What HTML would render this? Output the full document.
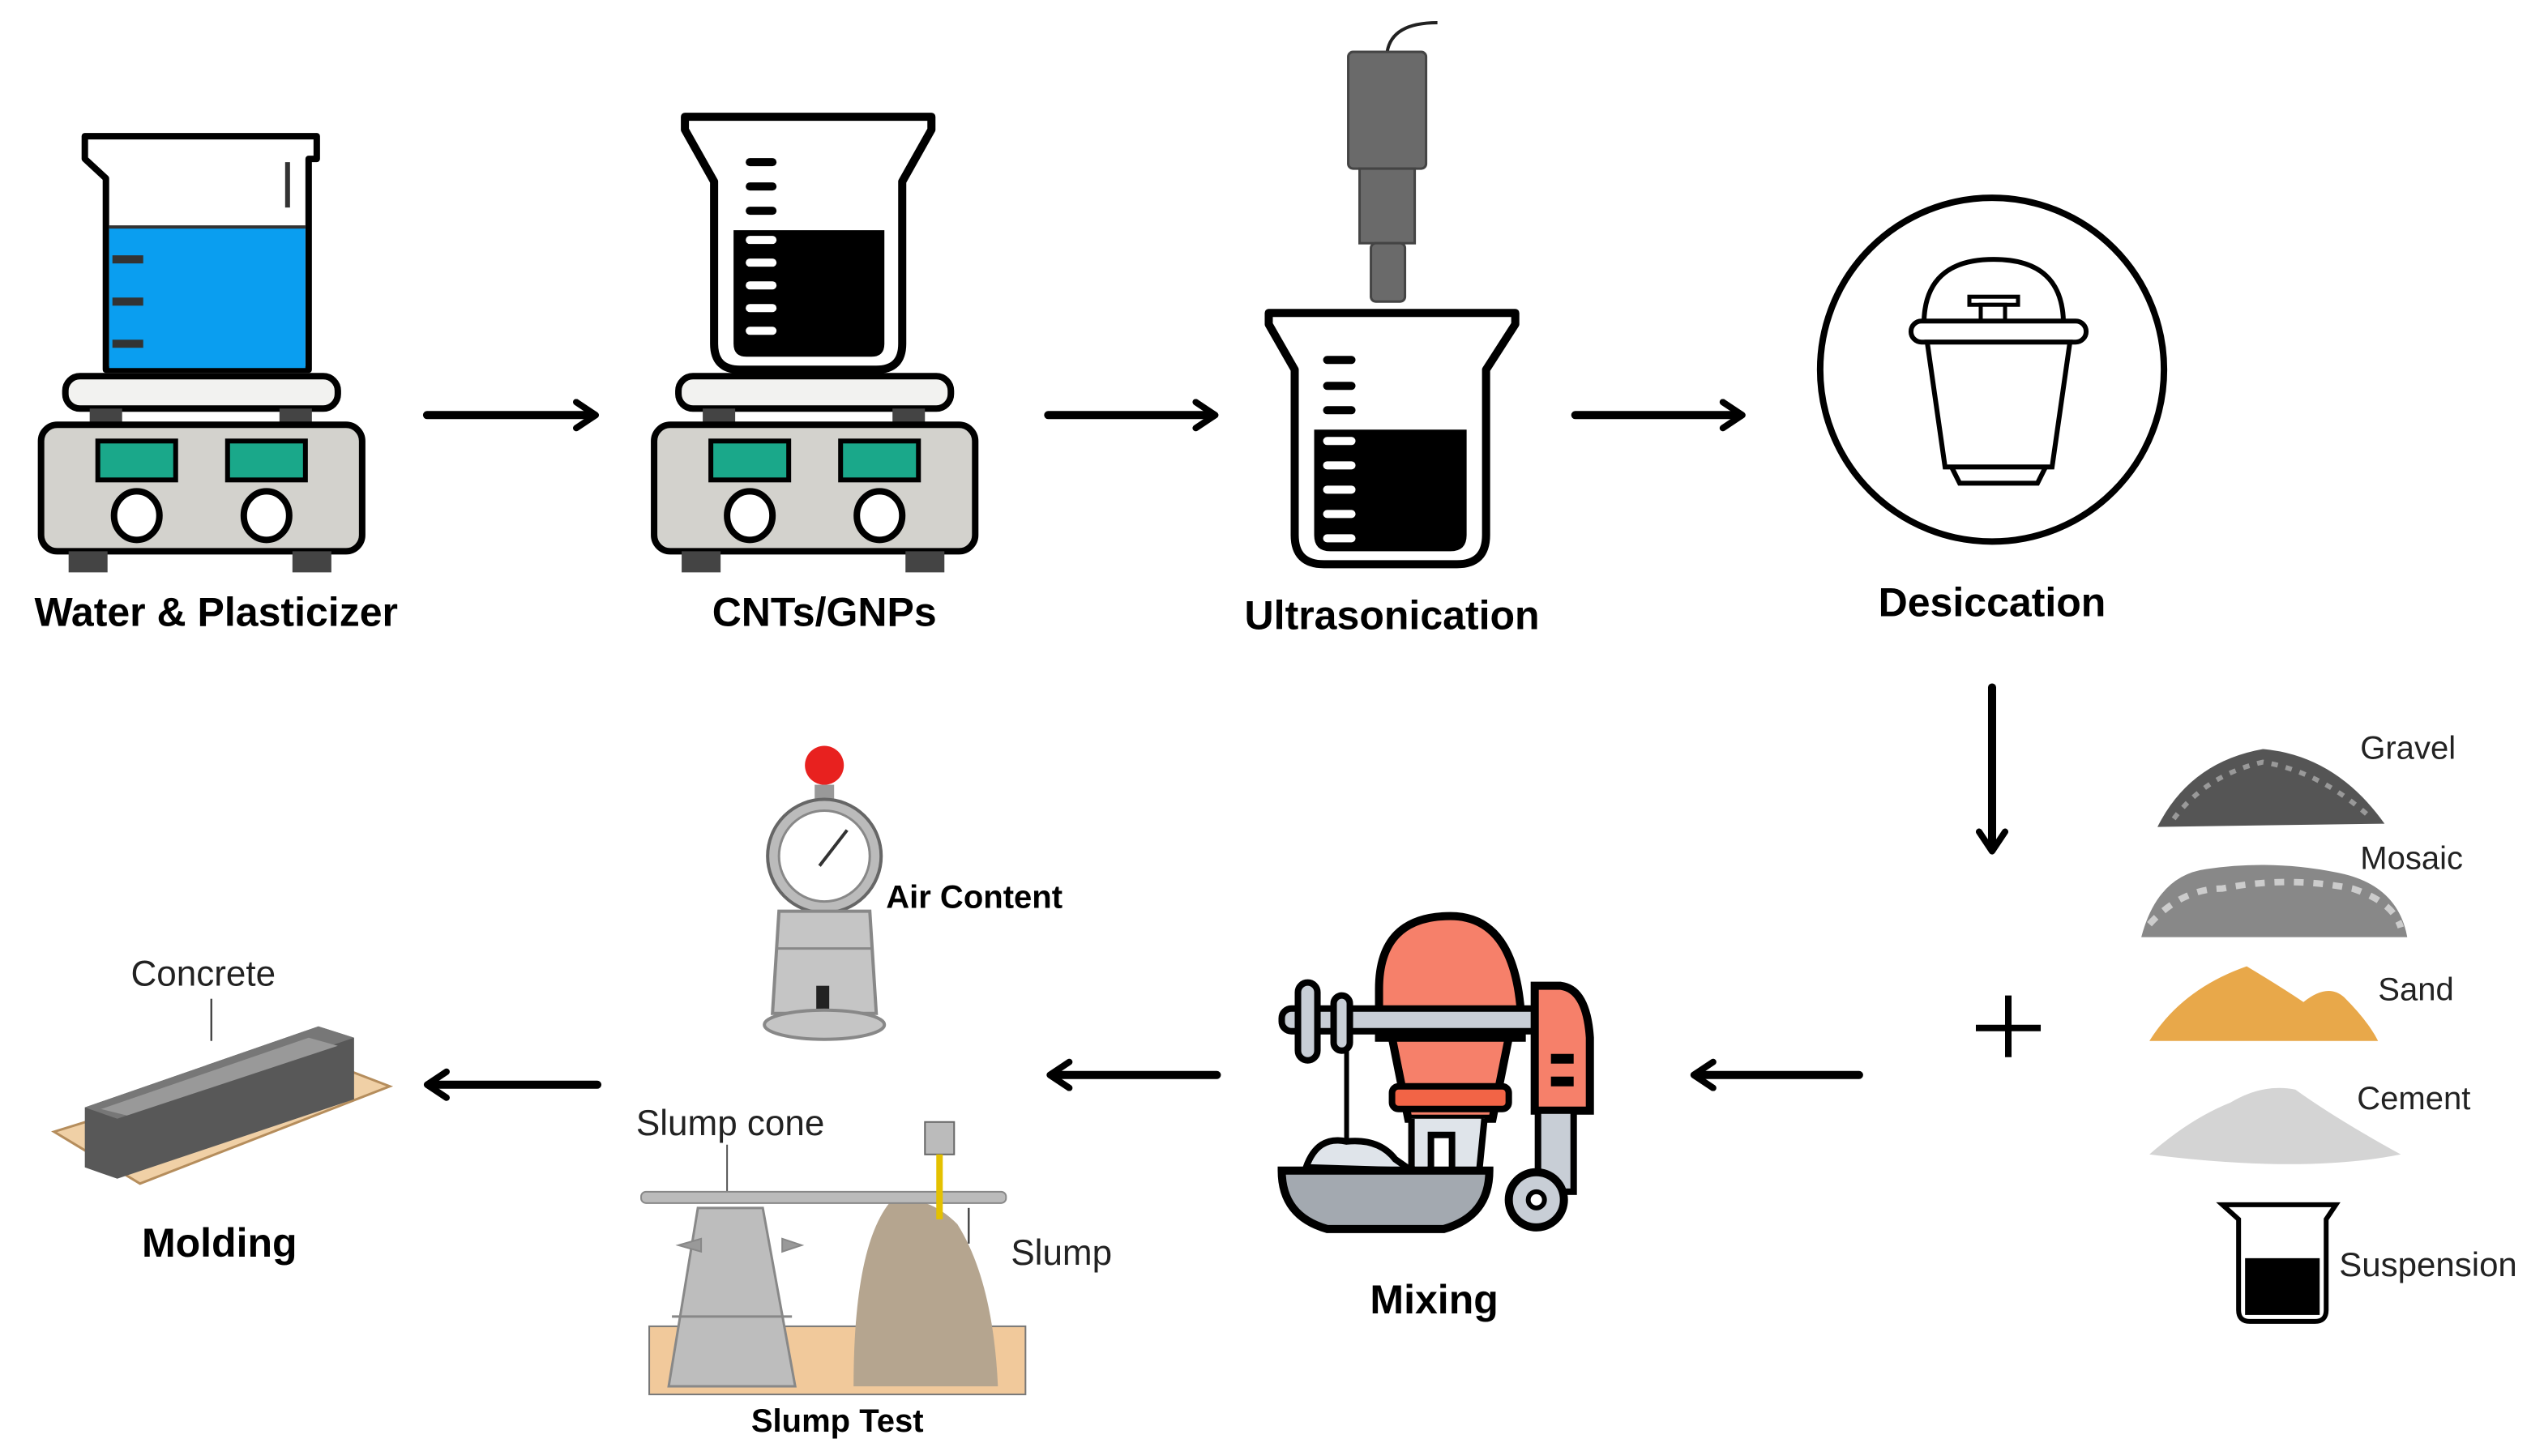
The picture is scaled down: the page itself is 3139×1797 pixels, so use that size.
<!DOCTYPE html>
<html><head><meta charset="utf-8">
<style>
html,body{margin:0;padding:0;background:#fff;}
svg{display:block;}
text{font-family:"Liberation Sans",sans-serif;}
</style></head>
<body>
<svg width="3139" height="1797" viewBox="0 0 1568 898" xmlns="http://www.w3.org/2000/svg">
<defs>
<marker id="ah" viewBox="0 0 20 20" refX="14" refY="10" markerWidth="20" markerHeight="20" markerUnits="userSpaceOnUse" orient="auto">
<path d="M3,2 L15,10 L3,18" fill="none" stroke="#000" stroke-width="4" stroke-linecap="round" stroke-linejoin="round"/>
</marker>
<g id="plate">
<rect x="40" y="232" width="168" height="20" rx="9" fill="#f2f2f0" stroke="#000" stroke-width="4"/>
<rect x="55" y="252" width="20" height="10" fill="#444"/>
<rect x="172" y="252" width="20" height="10" fill="#444"/>
<rect x="25" y="262" width="198" height="78" rx="10" fill="#d3d2cd" stroke="#000" stroke-width="4"/>
<rect x="60" y="272" width="48" height="24" fill="#1aa88a" stroke="#000" stroke-width="3"/>
<rect x="140" y="272" width="48" height="24" fill="#1aa88a" stroke="#000" stroke-width="3"/>
<ellipse cx="84" cy="318" rx="14" ry="15" fill="#fff" stroke="#000" stroke-width="4"/>
<ellipse cx="164" cy="318" rx="14" ry="15" fill="#fff" stroke="#000" stroke-width="4"/>
<rect x="42" y="340" width="24" height="13" fill="#444"/>
<rect x="180" y="340" width="24" height="13" fill="#444"/>
</g>
</defs>

<!-- Hotplate 1 -->
<path d="M52,84 L195,84 L195,98 L190,98 L190,228 L65,228 L65,110 L52,98 Z" fill="#fff" stroke="#000" stroke-width="4" stroke-linejoin="round"/>
<rect x="67" y="140" width="121" height="87" fill="#0a9ef0"/>
<line x1="67" y1="140" x2="188" y2="140" stroke="#333" stroke-width="2"/>
<line x1="69" y1="160" x2="88" y2="160" stroke="#333" stroke-width="5"/>
<line x1="69" y1="186" x2="88" y2="186" stroke="#333" stroke-width="5"/>
<line x1="69" y1="212" x2="88" y2="212" stroke="#333" stroke-width="5"/>
<line x1="177" y1="100" x2="177" y2="128" stroke="#333" stroke-width="3"/>
<use href="#plate"/>
<text x="133" y="386" font-size="25" font-weight="bold" text-anchor="middle">Water &amp; Plasticizer</text>

<!-- Hotplate 2 -->
<path d="M422,72 L574,72 L574,80 L556,112 L556,212 Q556,228 540,228 L456,228 Q440,228 440,212 L440,112 L422,80 Z" fill="#fff" stroke="#000" stroke-width="5" stroke-linejoin="round"/>
<path d="M452,142 L545,142 L545,212 Q545,220 537,220 L460,220 Q452,220 452,212 Z" fill="#000"/>
<g stroke="#000" stroke-width="5" stroke-linecap="round"><line x1="462" y1="100" x2="476" y2="100"/><line x1="462" y1="115" x2="476" y2="115"/><line x1="462" y1="130" x2="476" y2="130"/></g>
<g stroke="#fff" stroke-width="5" stroke-linecap="round"><line x1="462" y1="148" x2="476" y2="148"/><line x1="462" y1="162" x2="476" y2="162"/><line x1="462" y1="176" x2="476" y2="176"/><line x1="462" y1="190" x2="476" y2="190"/><line x1="462" y1="204" x2="476" y2="204"/></g>
<use href="#plate" transform="translate(378,0)"/>
<text x="508" y="386" font-size="25" font-weight="bold" text-anchor="middle">CNTs/GNPs</text>

<!-- arrows -->
<g stroke="#000" stroke-width="5" stroke-linecap="round" marker-end="url(#ah)">
<line x1="263" y1="256" x2="366" y2="256"/>
<line x1="646" y1="256" x2="748" y2="256"/>
<line x1="971" y1="256" x2="1073" y2="256"/>
<line x1="1228" y1="424" x2="1228" y2="524"/>
<line x1="1146" y1="663" x2="1045" y2="663"/>
<line x1="750" y1="663" x2="648" y2="663"/>
<line x1="368" y1="669" x2="264" y2="669"/>
</g>

<!-- Ultrasonication -->
<path d="M855,32 Q858,14 886,14" fill="none" stroke="#222" stroke-width="2"/>
<rect x="831" y="32" width="48" height="72" rx="3" fill="#6a6a6a" stroke="#444" stroke-width="1.5"/>
<rect x="838" y="104" width="34" height="46" fill="#6a6a6a" stroke="#444" stroke-width="1.5"/>
<rect x="845" y="150" width="21" height="36" rx="3" fill="#6a6a6a" stroke="#444" stroke-width="1.5"/>
<path d="M782,193 L934,193 L934,200 L916,228 L916,330 Q916,348 898,348 L816,348 Q798,348 798,330 L798,228 L782,200 Z" fill="#fff" stroke="#000" stroke-width="5" stroke-linejoin="round"/>
<path d="M810,265 L904,265 L904,330 Q904,340 894,340 L820,340 Q810,340 810,330 Z" fill="#000"/>
<g stroke="#000" stroke-width="5" stroke-linecap="round"><line x1="818" y1="222" x2="833" y2="222"/><line x1="818" y1="238" x2="833" y2="238"/><line x1="818" y1="253" x2="833" y2="253"/></g>
<g stroke="#fff" stroke-width="5" stroke-linecap="round"><line x1="818" y1="272" x2="833" y2="272"/><line x1="818" y1="287" x2="833" y2="287"/><line x1="818" y1="302" x2="833" y2="302"/><line x1="818" y1="317" x2="833" y2="317"/><line x1="818" y1="332" x2="833" y2="332"/></g>
<text x="858" y="388" font-size="25" font-weight="bold" text-anchor="middle">Ultrasonication</text>

<!-- Desiccation -->
<circle cx="1228" cy="228" r="106" fill="#fff" stroke="#000" stroke-width="4"/>
<path d="M1186,200 Q1186,160 1229,160 Q1272,160 1272,200" fill="#fff" stroke="#000" stroke-width="3"/>
<rect x="1214" y="183" width="30" height="5" fill="#fff" stroke="#000" stroke-width="2.5"/>
<rect x="1221" y="188" width="15" height="12" fill="#fff" stroke="#000" stroke-width="2.5"/>
<rect x="1178" y="198" width="108" height="13" rx="6.5" fill="#fff" stroke="#000" stroke-width="3"/>
<path d="M1188,211 L1276,211 L1265,288 L1199,288 Z" fill="#fff" stroke="#000" stroke-width="3"/>
<path d="M1203,288 L1261,288 L1256,298 L1208,298 Z" fill="#fff" stroke="#000" stroke-width="3"/>
<text x="1228" y="380" font-size="25" font-weight="bold" text-anchor="middle">Desiccation</text>

<!-- plus -->
<line x1="1218" y1="634" x2="1258" y2="634" stroke="#000" stroke-width="4"/>
<line x1="1238" y1="614" x2="1238" y2="652" stroke="#000" stroke-width="4"/>

<!-- materials -->
<path d="M1330,510 Q1350,470 1395,462 Q1440,466 1470,508 Z" fill="#555"/>
<path d="M1340,505 Q1360,478 1395,470 Q1430,476 1460,503" fill="none" stroke="#999" stroke-width="3" stroke-dasharray="4 5"/>
<text x="1455" y="468" font-size="20" fill="#222">Gravel</text>
<path d="M1320,578 Q1330,540 1360,536 Q1400,530 1440,538 Q1478,545 1484,578 Z" fill="#888"/>
<path d="M1325,570 Q1345,548 1370,548 Q1410,540 1450,548 Q1475,556 1480,572" fill="none" stroke="#ccc" stroke-width="4" stroke-dasharray="6 6"/>
<text x="1455" y="536" font-size="20" fill="#222">Mosaic</text>
<path d="M1325,642 Q1345,610 1385,596 Q1405,608 1420,618 Q1435,606 1445,615 Q1460,630 1466,642 Z" fill="#e8a84a"/>
<text x="1466" y="617" font-size="20" fill="#222">Sand</text>
<path d="M1325,712 Q1350,690 1375,680 Q1395,668 1415,672 Q1440,690 1480,712 Q1420,724 1325,712 Z" fill="#d4d4d4"/>
<text x="1453" y="684" font-size="20" fill="#222">Cement</text>
<path d="M1370,743 L1440,743 L1434,752 L1434,808 Q1434,815 1427,815 L1387,815 Q1380,815 1380,808 L1380,752 Z" fill="#fff" stroke="#000" stroke-width="3"/>
<rect x="1384" y="776" width="46" height="35" fill="#000"/>
<text x="1442" y="787" font-size="21" fill="#222">Suspension</text>

<!-- Mixer -->
<path d="M850,640 L850,610 Q850,565 894,565 Q938,565 938,640 Z" fill="#f6806a" stroke="#000" stroke-width="5"/>
<path d="M858,640 L930,640 L920,690 L868,690 Z" fill="#f6806a" stroke="#000" stroke-width="5"/>
<rect x="858" y="670" width="72" height="14" rx="4" fill="#f26446" stroke="#000" stroke-width="4"/>
<path d="M870,690 L870,720 Q876,728 882,720 L882,700 L895,700 L895,730 Q905,735 912,720 L915,690" fill="#dfe4ea" stroke="#000" stroke-width="4"/>
<rect x="790" y="622" width="160" height="14" rx="6" fill="#c8ced6" stroke="#000" stroke-width="4"/>
<rect x="800" y="606" width="12" height="48" rx="6" fill="#c8ced6" stroke="#000" stroke-width="4"/>
<rect x="822" y="614" width="10" height="34" rx="5" fill="#c8ced6" stroke="#000" stroke-width="4"/>
<path d="M946,608 L962,608 Q978,610 980,640 L980,685 L946,685 Z" fill="#f6806a" stroke="#000" stroke-width="5"/>
<rect x="956" y="650" width="14" height="6" fill="#000"/><rect x="956" y="664" width="14" height="6" fill="#000"/>
<rect x="948" y="685" width="22" height="50" fill="#c8ced6" stroke="#000" stroke-width="4"/>
<circle cx="947" cy="740" r="17" fill="#c8ced6" stroke="#000" stroke-width="5"/>
<circle cx="947" cy="740" r="5" fill="#fff" stroke="#000" stroke-width="3"/>
<line x1="830" y1="648" x2="830" y2="705" stroke="#000" stroke-width="3"/>
<path d="M805,720 Q812,700 830,704 Q850,702 860,715 L870,722 Z" fill="#dfe4ea" stroke="#000" stroke-width="4"/>
<path d="M790,722 L918,722 Q918,750 890,758 L818,758 Q790,750 790,722 Z" fill="#a3a9b0" stroke="#000" stroke-width="5"/>
<text x="884" y="810" font-size="25" font-weight="bold" text-anchor="middle">Mixing</text>

<!-- Air content -->
<circle cx="508" cy="472" r="12" fill="#e8211f"/>
<rect x="502" y="484" width="12" height="10" fill="#999"/>
<circle cx="508" cy="528" r="35" fill="#bbb" stroke="#666" stroke-width="2"/>
<circle cx="508" cy="528" r="28" fill="#fff" stroke="#888" stroke-width="1.5"/>
<line x1="505" y1="534" x2="522" y2="512" stroke="#333" stroke-width="2"/>
<path d="M480,562 L536,562 L540,625 L476,625 Z" fill="#c5c5c5" stroke="#888" stroke-width="2"/>
<line x1="478" y1="585" x2="538" y2="585" stroke="#888" stroke-width="1.5"/>
<rect x="503" y="608" width="8" height="20" fill="#222"/>
<ellipse cx="508" cy="632" rx="37" ry="9" fill="#c5c5c5" stroke="#888" stroke-width="2"/>
<text x="546" y="560" font-size="20" font-weight="bold">Air Content</text>

<!-- Slump test -->
<text x="450" y="700" font-size="22" fill="#222" text-anchor="middle">Slump cone</text>
<line x1="448" y1="706" x2="448" y2="740" stroke="#555" stroke-width="1"/>
<rect x="400" y="818" width="232" height="42" fill="#f1c99b" stroke="#777" stroke-width="1"/>
<path d="M526,855 Q526,770 548,742 Q570,735 590,755 Q612,790 615,855 Z" fill="#b5a58f"/>
<path d="M430,745 L470,745 L490,855 L412,855 Z" fill="#bdbdbd" stroke="#888" stroke-width="1.5"/>
<path d="M418,768 L432,764 L432,772 Z M482,764 L494,768 L482,772 Z" fill="#999" stroke="#888"/>
<line x1="414" y1="812" x2="488" y2="812" stroke="#888" stroke-width="1.5"/>
<rect x="395" y="735" width="225" height="7" rx="3" fill="#bbb" stroke="#888" stroke-width="1"/>
<rect x="570" y="692" width="18" height="20" fill="#bbb" stroke="#666"/>
<line x1="579" y1="712" x2="579" y2="752" stroke="#e4c100" stroke-width="4"/>
<line x1="597" y1="745" x2="597" y2="767" stroke="#444" stroke-width="1.2"/>
<text x="623" y="780" font-size="22" fill="#222">Slump</text>
<text x="516" y="883" font-size="20" font-weight="bold" text-anchor="middle">Slump Test</text>

<!-- Molding -->
<path d="M33,698 L188,650 L240,670 L86,730 Z" fill="#f0d0a6" stroke="#b58d5c" stroke-width="1.5"/>
<path d="M52,683 L196,633 L218,640 L218,678 L72,727 L52,720 Z" fill="#585858"/>
<path d="M52,683 L196,633 L218,640 L72,690 Z" fill="#777"/>
<path d="M62,684 L190,640 L208,645 L78,688 Z" fill="#999"/>
<text x="125" y="608" font-size="22" fill="#222" text-anchor="middle">Concrete</text>
<line x1="130" y1="616" x2="130" y2="642" stroke="#444" stroke-width="1.2"/>
<text x="135" y="775" font-size="25" font-weight="bold" text-anchor="middle">Molding</text>
</svg>
</body></html>
